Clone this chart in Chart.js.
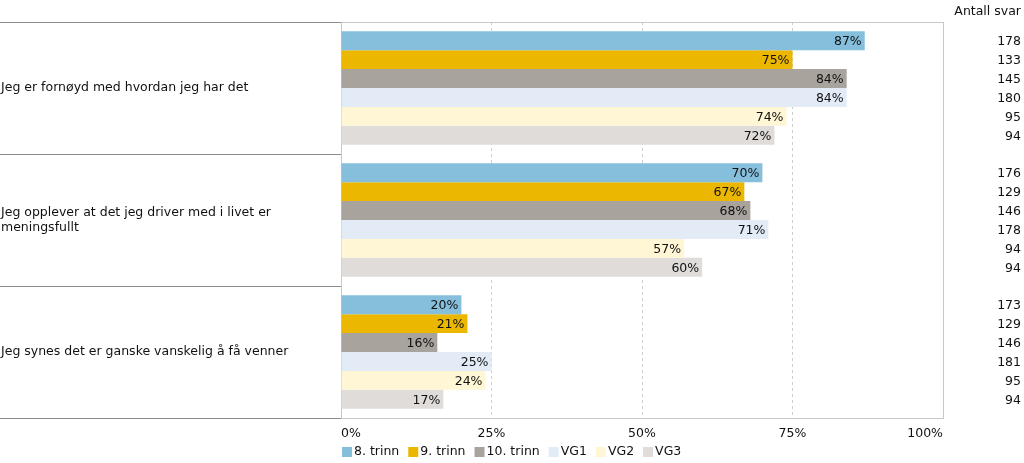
<!DOCTYPE html>
<html>
<head>
<meta charset="utf-8">
<script src="https://cdn.jsdelivr.net/npm/chart.js@4/dist/chart.umd.min.js"></script>
<style>
  html, body { margin: 0; padding: 0; background: #fff; }
  #wrap { width: 1024px; height: 463px; }
</style>
</head>
<body>
<div id="wrap"><canvas id="graf" width="1024" height="463"></canvas></div>
<script>
// spørsmål (kategorier)
const sporsmal = [
  'Jeg er fornøyd med hvordan jeg har det',
  ['Jeg opplever at det jeg driver med i livet er', 'meningsfullt'],
  'Jeg synes det er ganske vanskelig å få venner'
];
const trinn = ['8. trinn', '9. trinn', '10. trinn', 'VG1', 'VG2', 'VG3'];
const farger = ['#86BFDC', '#EBB700', '#A9A39E', '#E3ECF6', '#FFF6D5', '#DFDCDA'];

// prosent per trinn, en verdi per spørsmål
const trinn8 = [87, 70, 20];
const trinn9 = [75, 67, 21];
const trinn10 = [84, 68, 16];
const vg1 = [84, 71, 25];
const vg2 = [74, 57, 24];
const vg3 = [72, 60, 17];

// antall svar
const svar8 = [178, 176, 173];
const svar9 = [133, 129, 129];
const svar10 = [145, 146, 146];
const svarVg1 = [180, 178, 181];
const svarVg2 = [95, 94, 95];
const svarVg3 = [94, 94, 94];

const xTicks = [0, 25, 50, 75, 100];

const verdier = [trinn8, trinn9, trinn10, vg1, vg2, vg3];
const antall = [svar8, svar9, svar10, svarVg1, svarVg2, svarVg3];
const FAMILIE = '"DejaVu Sans", Verdana, sans-serif';
const FONT = '12.5px ' + FAMILIE;

const datasets = trinn.map((t, i) => ({
  label: t,
  data: verdier[i],
  antall: antall[i],
  backgroundColor: farger[i],
  borderWidth: 0,
  barPercentage: 1,
  categoryPercentage: 0.86
}));

// tegner tekster rundt grafen: spørsmål, etiketter, antall svar, legende
const ekstra = {
  id: 'ekstra',
  beforeDatasetsDraw(chart) {
    const ctx = chart.ctx;
    const a = chart.chartArea;
    ctx.save();
    // ramme rundt plottet
    ctx.strokeStyle = '#C8C8C8';
    ctx.lineWidth = 1;
    ctx.strokeRect(Math.round(a.left) + 0.5, Math.round(a.top) + 0.5, Math.round(a.right - a.left), Math.round(a.bottom - a.top));
    // skillelinjer til venstre
    ctx.strokeStyle = '#8C8C8C';
    const n = sporsmal.length;
    const steg = (a.bottom - a.top) / n;
    for (let i = 0; i <= n; i++) {
      const yy = Math.round(a.top + i * steg) + 0.5;
      ctx.beginPath();
      ctx.moveTo(0, yy);
      ctx.lineTo(a.left, yy);
      ctx.stroke();
    }
    ctx.restore();
  },
  afterDatasetsDraw(chart) {
    const ctx = chart.ctx;
    const a = chart.chartArea;
    const yScale = chart.scales.y;
    ctx.save();
    ctx.font = FONT;
    ctx.fillStyle = '#111';
    ctx.textBaseline = 'middle';

    // spørsmålstekst
    ctx.textAlign = 'left';
    sporsmal.forEach((s, i) => {
      const linjer = Array.isArray(s) ? s : [s];
      const yc = yScale.getPixelForValue(i);
      const lh = 15;
      linjer.forEach((l, k) => {
        ctx.fillText(l, 1, yc + (k - (linjer.length - 1) / 2) * lh);
      });
    });

    // verdier i søylene og antall svar
    chart.data.datasets.forEach((ds, d) => {
      const meta = chart.getDatasetMeta(d);
      meta.data.forEach((bar, i) => {
        ctx.textAlign = 'right';
        ctx.fillText(ds.data[i] + '%', bar.x - 3, bar.y + 1);
        ctx.fillText(String(ds.antall[i]), 1021, bar.y + 1);
      });
    });

    // overskrift
    ctx.textAlign = 'right';
    ctx.fillText('Antall svar', 1021, 12);

    // legende
    ctx.textAlign = 'left';
    let x = a.left + 1;
    const ly = 452;
    chart.data.datasets.forEach(ds => {
      ctx.fillStyle = ds.backgroundColor;
      ctx.fillRect(x, ly - 5, 10, 10);
      x += 12;
      ctx.fillStyle = '#111';
      ctx.fillText(ds.label, x, ly);
      x += ctx.measureText(ds.label).width + 9;
    });
    ctx.restore();
  }
};

new Chart(document.getElementById('graf'), {
  type: 'bar',
  data: { labels: sporsmal.map((s, i) => i), datasets: datasets },
  options: {
    indexAxis: 'y',
    responsive: false,
    animation: false,
    events: [],
    layout: { padding: { left: 341, right: 81, top: 22, bottom: 0 } },
    plugins: { legend: { display: false }, tooltip: { enabled: false } },
    scales: {
      y: { display: false },
      x: {
        min: 0,
        max: 100,
        afterBuildTicks: (s) => { s.ticks = xTicks.map(v => ({ value: v })); },
        afterFit: (s) => { s.height = 45; },
        border: { display: true, color: '#C8C8C8', dash: [3, 3] },
        grid: {
          drawTicks: false,
          color: (c) => (c.tick && (c.tick.value === 0 || c.tick.value === 100)) ? 'rgba(0,0,0,0)' : '#CFCFCF'
        },
        ticks: {
          align: 'inner',
          padding: 8,
          color: '#111',
          font: { family: FAMILIE, size: 12.5 },
          callback: (v) => v + '%'
        }
      }
    }
  },
  plugins: [ekstra]
});
</script>
</body>
</html>
